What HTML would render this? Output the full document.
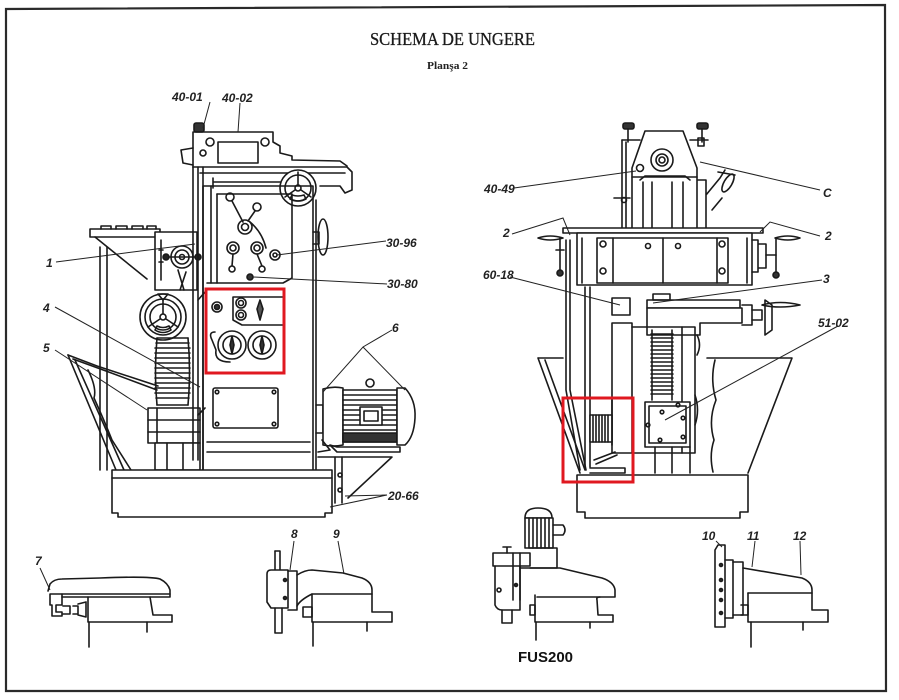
<!DOCTYPE html>
<html><head><meta charset="utf-8"><style>
html,body{margin:0;padding:0;background:#fff;}
svg{display:block;}
.lb{font-family:"Liberation Sans",sans-serif;font-style:italic;font-weight:bold;font-size:12px;fill:#222;}
</style></head><body>
<svg width="899" height="700" viewBox="0 0 899 700" xmlns="http://www.w3.org/2000/svg">
<rect width="899" height="700" fill="#fff"/>
<!-- page border -->
<path d="M6,9 L885,5 L886,691 L6,691 Z" fill="none" stroke="#2a2a2a" stroke-width="2.2"/>

<!-- titles -->
<text x="370" y="45" font-family="'Liberation Serif',serif" font-size="18" fill="#1a1a1a" stroke="#1a1a1a" stroke-width="0.3" textLength="165" lengthAdjust="spacingAndGlyphs">SCHEMA DE UNGERE</text>
<text x="427" y="69" font-family="'Liberation Serif',serif" font-weight="bold" font-size="10" fill="#222" textLength="41" lengthAdjust="spacingAndGlyphs">Planşa 2</text>

<!-- ================= LEFT MACHINE ================= -->
<g stroke="#1a1a1a" stroke-width="1.6" fill="none" stroke-linejoin="round" stroke-linecap="round">
<!-- coolant tray -->
<path d="M68,355 L97,366 L158,386"/>
<path d="M73,359 L106,371 L157,390"/>
<path d="M68,355 L116,470"/>
<path d="M75,360 L124,470"/>
<path d="M88,370 Q97,388 94,398 Q104,420 112,440 L131,470"/>
<!-- stand rod -->
<path d="M100,247 L100,470 M107,247 L107,470"/>
<!-- table -->
<rect x="90" y="229" width="70" height="8" fill="#fff"/>
<path d="M101,229 v-3 h10 v3 M116,229 v-3 h11 v3 M132,229 v-3 h11 v3 M147,229 v-3 h9 v3"/>
<path d="M95,237 L147,279"/>
<!-- knee upper block -->
<path d="M155,232 L197,232 L197,290 L155,290 Z" fill="#fff"/>
<path d="M161,240 v40 M159,262 h4 M159,250 h4"/>
<!-- small handwheel -->
<circle cx="182" cy="257" r="11" fill="#fff"/>
<circle cx="182" cy="257" r="7"/>
<circle cx="182" cy="257" r="2.5"/>
<path d="M166,257 L198,257"/>
<circle cx="166" cy="257" r="3" fill="#222"/>
<circle cx="198" cy="257" r="3" fill="#222"/>
<path d="M178,270 L184,290 M186,272 L180,290"/>
<!-- big handwheel -->
<circle cx="163" cy="317" r="23" fill="#fff"/>
<circle cx="163" cy="317" r="18"/>
<circle cx="163" cy="317" r="13"/>
<circle cx="163" cy="317" r="3"/>
<path d="M163,314 L163,299 M160,319 L148,327 M166,319 L178,327"/>
<path d="M155,330 Q163,335 171,330 L169,326 Q163,329 157,326 Z"/>
<path d="M158,294 L168,294 L163,300 Z"/>
<!-- bellows -->
<path d="M157,338 L188,338 M157,405 L188,405"/>
<path d="M157,338 Q154,371 157,405 M188,338 Q191,371 188,405"/>
<path d="M156,343 H189 M155,348 H190 M155,353 H190 M155,358 H190 M155,363 H190 M155,368 H190 M155,373 H190 M155,378 H190 M155,383 H190 M155,388 H190 M155,393 H190 M156,398 H189"/>
<!-- lower knee block -->
<rect x="148" y="408" width="52" height="35" fill="#fff"/>
<path d="M148,420 H200 M148,432 H200 M157,408 V443"/>
<rect x="155" y="443" width="45" height="27" fill="#fff"/>
<path d="M167,443 V470 M183,443 V470"/>
<!-- knee slide guide -->
<path d="M193,167 V460 M198,167 V460 M203,167 V470"/>
<path d="M198,300 L205,292 M198,415 L205,408"/>

<!-- head -->
<rect x="194" y="123" width="10" height="9" rx="2" fill="#333"/>
<path d="M193,167 L193,132 L273,132 L273,142 L280,146 L280,153 L292,156 L292,160 L340,161 L347,166"/>
<path d="M193,148 L181,150 L183,163 L193,165"/>
<rect x="218" y="142" width="40" height="21"/>
<circle cx="210" cy="142" r="4"/><circle cx="265" cy="142" r="4"/>
<circle cx="203" cy="153" r="3"/>
<!-- ram -->
<path d="M193,167 L347,167 L352,172 L352,190 L345,193 L340,186 L320,186"/>
<path d="M200,173 L345,173"/>
<path d="M213,182 L280,182 M213,178 v10"/>
<circle cx="298" cy="188" r="18" fill="#fff"/>
<circle cx="298" cy="188" r="13"/>
<circle cx="298" cy="188" r="3"/>
<path d="M298,185 L298,172 M295,190 L285,197 M301,190 L311,197"/>
<path d="M290,199 Q298,203 306,199 L304,195 Q298,197 292,195 Z"/>
<!-- column -->
<path d="M203,470 L203,186 L313,186 L313,470"/>
<path d="M316,200 L316,470"/>
<path d="M211,186 V283"/>
<!-- upper gear panel -->
<path d="M217,194 L292,194 L292,278 L283,283 L207,283"/>
<path d="M217,194 V283"/>
<circle cx="230" cy="197" r="4"/><circle cx="257" cy="207" r="4"/>
<path d="M232,201 L243,222 M255,211 L248,221"/>
<circle cx="245" cy="227" r="7"/><circle cx="245" cy="227" r="3.5"/>
<path d="M250,222 Q262,232 266,248"/>
<circle cx="233" cy="248" r="6"/><circle cx="233" cy="248" r="3"/>
<circle cx="257" cy="248" r="6"/><circle cx="257" cy="248" r="3"/>
<path d="M233,254 L232,266 M257,254 L262,266"/>
<circle cx="232" cy="269" r="3"/><circle cx="262" cy="269" r="3"/>
<circle cx="275" cy="255" r="5"/><circle cx="275" cy="255" r="2"/>
<circle cx="250" cy="277" r="3" fill="#333"/>
<!-- side handwheel -->
<ellipse cx="323" cy="237" rx="5" ry="18" fill="#fff"/>
<path d="M313,232 L319,232 L319,244 L313,244"/>
<!-- contents of red box -->
<circle cx="217" cy="307" r="5"/><circle cx="217" cy="307" r="2.5" fill="#333"/>
<path d="M233,297 L284,297 M233,297 V320 L242,325 L284,325"/>
<circle cx="241" cy="303" r="5"/><circle cx="241" cy="303" r="2.5"/>
<circle cx="241" cy="315" r="5"/><circle cx="241" cy="315" r="2.5"/>
<path d="M260,300 L263,309 L260,320 L257,309 Z" fill="#555"/>
<path d="M215,332 Q208,332 212,340 L216,350 Q214,362 230,362"/>
<circle cx="232" cy="345" r="14"/><circle cx="232" cy="345" r="9"/>
<path d="M232,336 L234,345 L232,354 L230,345 Z" fill="#333"/>
<circle cx="262" cy="345" r="14"/><circle cx="262" cy="345" r="9"/>
<path d="M262,336 L264,345 L262,354 L260,345 Z" fill="#333"/>
<!-- lower panel -->
<rect x="213" y="388" width="65" height="40" rx="2"/>
<circle cx="217" cy="392" r="1.8"/><circle cx="274" cy="392" r="1.8"/>
<circle cx="217" cy="424" r="1.8"/><circle cx="274" cy="424" r="1.8"/>
<path d="M207,442 H310 M207,452 H310"/>
<!-- base -->
<path d="M112,470 L332,470 L332,513 L325,513 L325,517 L118,517 L118,513 L112,513 Z" fill="#fff"/>
<path d="M112,478 H332"/>
<!-- motor -->
<path d="M316,405 L323,405 L323,433 L316,433"/>
<path d="M323,389 Q333,386 343,388 L343,445 Q333,447 323,445 Z" fill="#fff"/>
<rect x="343" y="390" width="54" height="52" fill="#fff"/>
<path d="M343,395 H397 M343,400 H397 M343,405 H397 M343,410 H397 M343,415 H397 M343,420 H397 M343,425 H397 M343,430 H397"/>
<rect x="360" y="407" width="22" height="18" fill="#fff"/>
<rect x="364" y="411" width="14" height="10"/>
<path d="M343,433 H397 V442 H343 Z" fill="#333"/>
<path d="M397,388 L405,388 Q416,400 415,418 Q414,437 405,445 L397,445 Z" fill="#fff"/>
<circle cx="370" cy="383" r="4"/>
<path d="M330,445 L337,447 H400 V452 H337 Z"/>
<path d="M322,440 L330,450 L318,452"/>
<!-- motor bracket -->
<path d="M318,457 H392 L348,498"/>
<path d="M335,457 V503 M342,457 V503"/>
<circle cx="340" cy="475" r="2"/><circle cx="340" cy="490" r="2"/>
</g>
<!-- left red box -->
<rect x="206" y="289" width="78" height="84" fill="none" stroke="#e01820" stroke-width="3"/>

<!-- left leaders -->
<g stroke="#222" stroke-width="1" fill="none">
<path d="M210,102 L203,128"/>
<path d="M240,103 L238,132"/>
<path d="M56,262 L195,244"/>
<path d="M55,307 L200,387"/>
<path d="M55,350 L147,410"/>
<path d="M386,241 L277,255"/>
<path d="M387,284 L253,277"/>
<path d="M392,330 L363,347 L323,392 M363,347 L405,390"/>
<path d="M387,495 L345,496 M387,495 L330,507"/>
</g>
<g class="lb">
<text x="172" y="101">40-01</text>
<text x="222" y="102">40-02</text>
<text x="386" y="247">30-96</text>
<text x="387" y="288">30-80</text>
<text x="392" y="332">6</text>
<text x="388" y="500">20-66</text>
<text x="46" y="267">1</text>
<text x="43" y="312">4</text>
<text x="43" y="352">5</text>
</g>

<!-- ================= RIGHT MACHINE ================= -->
<g stroke="#1a1a1a" stroke-width="1.6" fill="none" stroke-linejoin="round" stroke-linecap="round">
<!-- funnels / tray -->
<path d="M538,358 L563,358 M538,358 L580,473 M545,360 L585,470"/>
<path d="M707,358 L792,358 L748,473"/>
<path d="M715,360 Q710,380 716,400 Q708,420 714,440 Q709,455 713,472"/>
<!-- base -->
<path d="M577,475 L748,475 L748,512 L740,512 L740,518 L585,518 L585,512 L577,512 Z" fill="#fff"/>
<!-- vertical pipes left -->
<path d="M566,240 L566,390 L580,470 M570,240 L570,390 L586,470"/>
<path d="M585,287 V467 M590,287 V467"/>
<!-- top knobs & bar -->
<rect x="623" y="123" width="11" height="6" rx="2" fill="#333"/>
<rect x="697" y="123" width="11" height="6" rx="2" fill="#333"/>
<path d="M628,129 V142 M702,129 V142"/>
<path d="M622,140 L640,140 M690,140 L708,140"/>
<rect x="698" y="138" width="6" height="8"/>
<!-- head -->
<path d="M645,131 L683,131 L697,168 L697,177 L632,177 L632,168 Z" fill="#fff"/>
<circle cx="662" cy="160" r="11"/>
<circle cx="662" cy="160" r="6"/>
<circle cx="662" cy="160" r="3"/>
<circle cx="640" cy="168" r="3.5"/>
<path d="M640,180 L645,176 H685 L690,180"/>
<!-- column -->
<path d="M632,177 V228 M697,177 V228 M643,182 V228 M652,182 V228 M672,182 V228 M683,182 V228"/>
<path d="M622,140 V228 M626,142 V228"/>
<circle cx="624" cy="200" r="2.5"/>
<path d="M614,198 H630"/>
<!-- right lever -->
<path d="M698,180 L706,180 V228 M706,195 L720,178 L725,170 M712,210 L722,198"/>
<path d="M718,172 L735,175"/>
<ellipse cx="728" cy="183" rx="4" ry="10" transform="rotate(30 728 183)"/>
<!-- table -->
<rect x="563" y="228" width="200" height="5" fill="#fff"/>
<!-- saddle -->
<rect x="577" y="233" width="175" height="52" fill="#fff"/>
<path d="M597,238 H728 V283 H597 Z"/>
<path d="M613,238 V283 M717,238 V283 M663,238 V283"/>
<circle cx="603" cy="244" r="3"/><circle cx="603" cy="271" r="3"/>
<circle cx="722" cy="244" r="3"/><circle cx="722" cy="271" r="3"/>
<circle cx="648" cy="246" r="2.5"/><circle cx="678" cy="246" r="2.5"/>
<path d="M582,238 V283 M747,238 V283"/>
<!-- left handle -->
<path d="M538,238 Q550,234 563,238 Q550,242 538,238 Z"/>
<path d="M560,238 V270 M556,250 H564"/>
<circle cx="560" cy="273" r="3" fill="#333"/>
<!-- right handle + pulley -->
<path d="M752,240 H758 V272 H752 M758,244 H766 V268 H758"/>
<path d="M766,255 H776"/>
<path d="M775,238 Q788,234 800,238 Q788,242 775,238 Z"/>
<path d="M776,238 V272"/>
<circle cx="776" cy="275" r="3" fill="#333"/>
<!-- knee -->
<path d="M612,298 H630 V315 H612 Z"/>
<path d="M647,300 H740 V308 H647 Z" fill="#fff"/>
<path d="M647,308 H742 V323 H700 V335 H647 Z" fill="#fff"/>
<path d="M742,305 L752,305 L752,325 L742,325"/>
<path d="M752,310 H762 V320 H752"/>
<path d="M765,300 L772,305 L772,330 L765,335 Z"/>
<path d="M762,305 Q780,300 800,305 Q780,309 762,305 Z"/>
<path d="M653,294 H670 V300 H653 Z"/>
<!-- column lower -->
<rect x="612" y="323" width="20" height="130" fill="#fff"/>
<path d="M632,327 H695 V453 H632"/>
<path d="M682,327 V453"/>
<path d="M697,335 Q702,345 697,355"/>
<!-- bellows -->
<path d="M652,330 V400 M672,330 V400"/>
<path d="M651,334 H673 M651,338 H673 M651,342 H673 M651,346 H673 M651,350 H673 M651,354 H673 M651,358 H673 M651,362 H673 M651,366 H673 M651,370 H673 M651,374 H673 M651,378 H673 M651,382 H673 M651,386 H673 M651,390 H673 M651,394 H673"/>
<!-- gearbox 51-02 -->
<path d="M645,402 H690 V447 H645 Z" fill="#fff"/>
<path d="M649,406 H686 V443 H649 Z"/>
<circle cx="662" cy="412" r="1.8"/><circle cx="678" cy="405" r="1.8"/><circle cx="683" cy="418" r="1.8"/>
<circle cx="648" cy="425" r="1.8"/><circle cx="660" cy="440" r="1.8"/><circle cx="683" cy="437" r="1.8"/>
<path d="M695,395 Q700,410 695,425"/>
<path d="M655,447 V473 M672,447 V473 M690,447 V473"/>
<!-- small motor in red box -->
<rect x="590" y="415" width="22" height="27" fill="#fff"/>
<path d="M593,415 V442 M596,415 V442 M599,415 V442 M602,415 V442 M605,415 V442 M608,415 V442"/>
<path d="M612,400 V445"/>
<path d="M594,460 L615,452 M596,464 L617,455"/>
<path d="M590,468 H625 V473 H590"/>
</g>
<rect x="563" y="398" width="70" height="84" fill="none" stroke="#e01820" stroke-width="3"/>

<!-- right leaders -->
<g stroke="#222" stroke-width="1" fill="none">
<path d="M514,188 L636,171"/>
<path d="M820,190 L700,162"/>
<path d="M512,234 L563,218 L570,235"/>
<path d="M820,236 L770,222 L760,232"/>
<path d="M510,277 L620,305"/>
<path d="M822,280 L653,303"/>
<path d="M838,326 L665,420"/>
</g>
<g class="lb">
<text x="484" y="193">40-49</text>
<text x="823" y="197">C</text>
<text x="503" y="237">2</text>
<text x="825" y="240">2</text>
<text x="483" y="279">60-18</text>
<text x="823" y="283">3</text>
<text x="818" y="327">51-02</text>
</g>

<!-- ================= BOTTOM ATTACHMENTS ================= -->
<g stroke="#1a1a1a" stroke-width="1.6" fill="none" stroke-linejoin="round" stroke-linecap="round">
<!-- 7 -->
<path d="M48,591 L50,584 Q54,579 62,579 L100,578 Q150,576 160,579 Q168,583 170,590 L170,597 L62,597"/>
<path d="M62,594 H170"/>
<path d="M88,597 V622 H172 V615 H153 L150,597"/>
<path d="M89,622 V647 M147,622 V632"/>
<path d="M50,594 H62 V605 H56 V612 H62 V616 H52 V605 H50 Z"/>
<path d="M63,606 H70 V614 H63 M73,606 H78 V614 H73 M78,604 L86,602 V617 L78,615"/>
<!-- 8/9 -->
<path d="M275,551 H280 V570"/>
<path d="M275,551 V570"/>
<path d="M267,574 Q267,570 271,570 H288 V608 H271 L267,602 Z" fill="#fff"/>
<circle cx="285" cy="580" r="1.5" fill="#333"/><circle cx="285" cy="598" r="1.5" fill="#333"/>
<path d="M288,571 H297 V610 H288"/>
<path d="M275,608 V633 H282 V608"/>
<path d="M297,575 Q305,570 312,570 L343,573 L362,578 Q372,582 372,590 V612 H392 V622 H312 V594 Q300,600 297,606"/>
<path d="M312,594 H372"/>
<path d="M313,622 V646 M367,622 V631"/>
<path d="M303,607 H312 V617 H303 Z"/>
<!-- FUS200 -->
<path d="M525,518 Q525,508 538,508 Q552,508 552,518 Z" fill="#fff"/>
<rect x="525" y="518" width="28" height="30" fill="#fff"/>
<path d="M529,518 V548 M533,518 V548 M537,518 V548 M541,518 V548 M545,518 V548 M549,518 V548"/>
<path d="M553,525 H563 Q567,530 563,535 H553"/>
<path d="M530,548 H557 V568 H530"/>
<path d="M493,553 H530 V566 H493 Z" fill="#fff"/>
<path d="M507,547 V553 M503,547 H511"/>
<path d="M495,566 V605 Q497,610 502,610 H520 V566"/>
<path d="M513,553 V600 M520,553 V600"/>
<circle cx="499" cy="590" r="2"/><circle cx="516" cy="585" r="1.5" fill="#333"/>
<path d="M502,610 V623 H512 V610"/>
<path d="M520,568 L560,568 L602,578 Q614,582 615,590 V597 H537"/>
<path d="M535,595 V622 H613 V615 H598 L597,600 Q596,597 600,597"/>
<path d="M536,622 V640 M590,622 V628"/>
<path d="M530,605 H535 V615 H530 Z"/>
<!-- 10/11/12 -->
<path d="M715,550 L718,545 H725 V627 H715 Z" fill="#fff"/>
<circle cx="721" cy="565" r="1.5" fill="#333"/><circle cx="721" cy="580" r="1.5" fill="#333"/>
<circle cx="721" cy="590" r="1.5" fill="#333"/><circle cx="721" cy="600" r="1.5" fill="#333"/>
<circle cx="721" cy="613" r="1.5" fill="#333"/>
<path d="M725,560 H733 V618 H725"/>
<path d="M733,562 H743 V615 H733"/>
<path d="M743,568 L802,578 Q812,582 812,590 V610 H828 V622 H748 V593"/>
<path d="M748,593 H812"/>
<path d="M751,622 V647 M803,622 V630"/>
<path d="M741,605 H748 V615 H741"/>
</g>
<g stroke="#222" stroke-width="1" fill="none">
<path d="M40,568 L50,590"/>
<path d="M294,541 L290,570"/>
<path d="M338,541 L344,574"/>
<path d="M716,541 L722,547"/>
<path d="M755,541 L752,567"/>
<path d="M800,541 L801,575"/>
</g>
<g class="lb">
<text x="35" y="565">7</text>
<text x="291" y="538">8</text>
<text x="333" y="538">9</text>
<text x="702" y="540">10</text>
<text x="747" y="540">11</text>
<text x="793" y="540">12</text>
</g>
<text x="518" y="662" font-family="'Liberation Sans',sans-serif" font-weight="bold" font-size="15" fill="#111">FUS200</text>
</svg>
</body></html>
